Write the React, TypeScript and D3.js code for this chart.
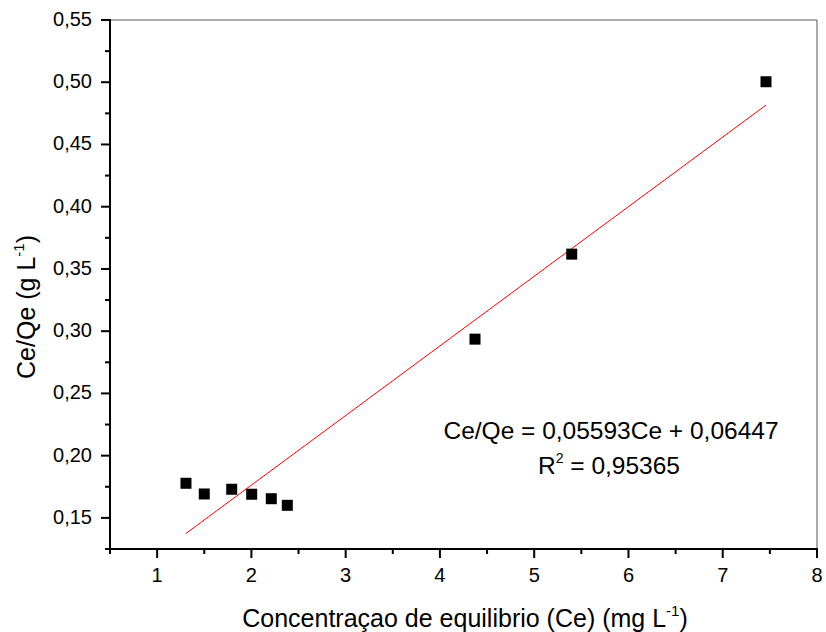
import React from "react";
import * as d3 from "d3";

// Equilibrium concentration (mg/L) and Ce/Qe (g/L)
const ceValues = [1.306, 1.5, 1.791, 2.003, 2.211, 2.381, 4.372, 5.398, 7.459];
const ceQeValues = [0.1778, 0.1692, 0.173, 0.169, 0.1654, 0.1601, 0.2936, 0.3619, 0.5004];

// Linear fit
const slope = 0.05593;
const intercept = 0.06447;
const fitRange = [1.306, 7.459];

const xTicks = [1, 2, 3, 4, 5, 6, 7, 8];
const xMinorTicks = [0.5, 1.5, 2.5, 3.5, 4.5, 5.5, 6.5, 7.5];
const yTicks = [0.15, 0.2, 0.25, 0.3, 0.35, 0.4, 0.45, 0.5, 0.55];
const yMinorTicks = [0.125, 0.175, 0.225, 0.275, 0.325, 0.375, 0.425, 0.475, 0.525];

const W = 826;
const H = 632;
const left = 110;
const right = 817;
const top = 20;
const bottom = 549;
const font = "'Liberation Sans', Arial, sans-serif";

export default function App() {
  const x = d3.scaleLinear().domain([0.5, 8]).range([left, right]);
  const y = d3.scaleLinear().domain([0.125, 0.55]).range([bottom, top]);
  const fmt = (v: number) => v.toFixed(2).replace(".", ",");
  const line = d3
    .line<number>()
    .x((d) => x(d))
    .y((d) => y(slope * d + intercept));

  return (
    <svg
      width={W}
      height={H}
      style={{ position: "absolute", left: 0, top: 0, background: "#fff" }}
      fontFamily={font}
    >
      {/* frame */}
      <line x1={left} y1={top} x2={right} y2={top} stroke="#555" strokeWidth={1} />
      <line x1={right} y1={top} x2={right} y2={bottom} stroke="#555" strokeWidth={1} />
      {/* axes */}
      <line x1={left} y1={top - 1} x2={left} y2={bottom + 1} stroke="#000" strokeWidth={2} />
      <line x1={left - 1} y1={bottom} x2={right + 1} y2={bottom} stroke="#000" strokeWidth={2} />

      {xTicks.map((t) => (
        <g key={"xt" + t}>
          <line x1={x(t)} x2={x(t)} y1={bottom} y2={bottom + 9} stroke="#000" strokeWidth={2} />
          <text x={x(t)} y={582} textAnchor="middle" fontSize={20}>
            {t}
          </text>
        </g>
      ))}
      {xMinorTicks.map((t) => (
        <line key={"xm" + t} x1={x(t)} x2={x(t)} y1={bottom} y2={bottom + 5} stroke="#000" strokeWidth={2} />
      ))}
      {yTicks.map((t) => (
        <g key={"yt" + t}>
          <line x1={left - 9} x2={left} y1={y(t)} y2={y(t)} stroke="#000" strokeWidth={2} />
          <text x={92} y={y(t) + 6} textAnchor="end" fontSize={20}>
            {fmt(t)}
          </text>
        </g>
      ))}
      {yMinorTicks.map((t) => (
        <line key={"ym" + t} x1={left - 5} x2={left} y1={y(t)} y2={y(t)} stroke="#000" strokeWidth={2} />
      ))}

      {/* fit line */}
      <path d={line(fitRange) || ""} fill="none" stroke="#ff0000" strokeWidth={1} />

      {/* data points */}
      {ceValues.map((c, i) => (
        <rect
          key={"p" + i}
          x={x(c) - 5.5}
          y={y(ceQeValues[i]) - 5.5}
          width={11}
          height={11}
          fill="#000"
        />
      ))}

      {/* equation */}
      <text x={611} y={439} textAnchor="middle" fontSize={24.5}>
        Ce/Qe = 0,05593Ce + 0,06447
      </text>
      <text x={609} y={474} textAnchor="middle" fontSize={24.5}>
        R<tspan dy={-11} fontSize={14}>2</tspan>
        <tspan dy={11}> = 0,95365</tspan>
      </text>

      {/* axis titles */}
      <text x={465} y={627} textAnchor="middle" fontSize={25}>
        Concentraçao de equilibrio (Ce) (mg L<tspan dy={-11} fontSize={15}>-1</tspan>
        <tspan dy={11}>)</tspan>
      </text>
      <text
        transform={`translate(35,307) rotate(-90)`}
        textAnchor="middle"
        fontSize={25}
      >
        Ce/Qe (g L<tspan dy={-11} fontSize={15}>-1</tspan>
        <tspan dy={11}>)</tspan>
      </text>
    </svg>
  );
}
